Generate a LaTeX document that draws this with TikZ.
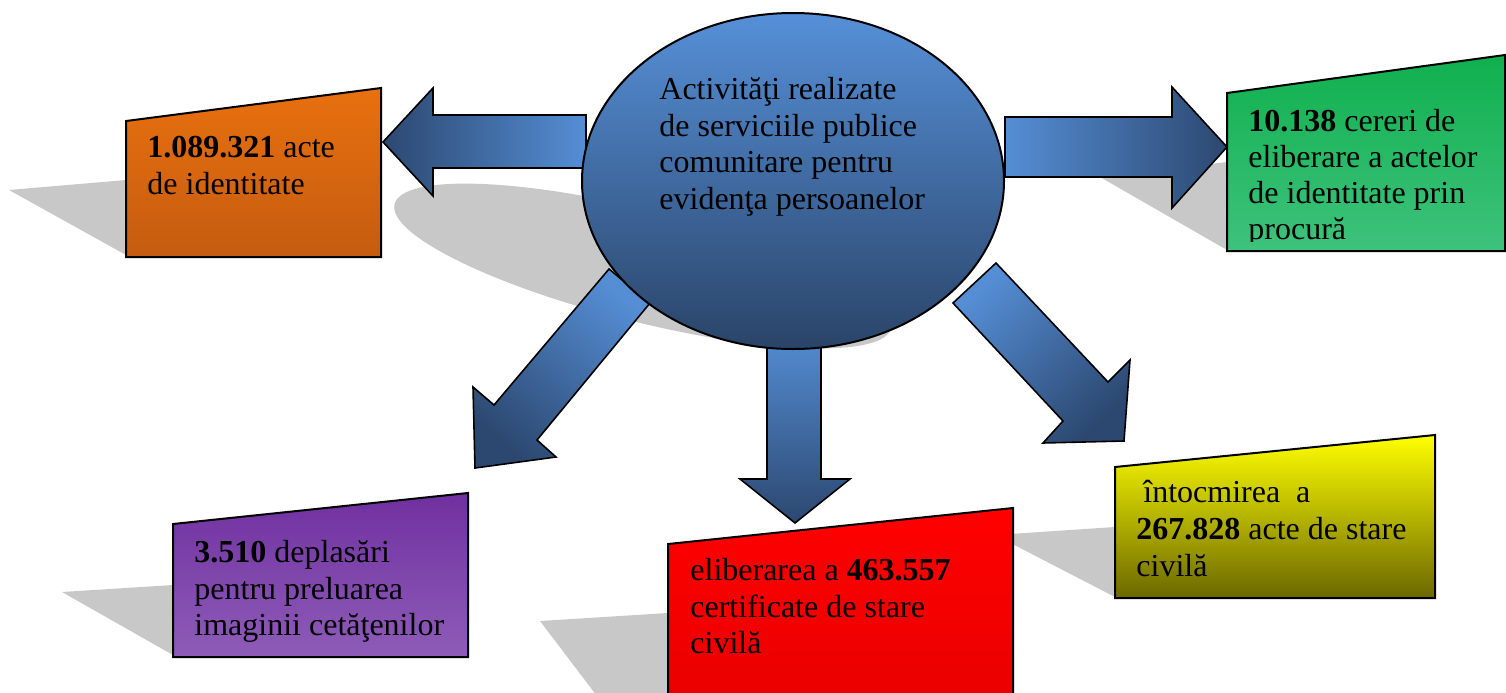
\documentclass[tikz,border=0pt]{standalone}
\usepackage{fontspec}
\setmainfont{Liberation Serif}
\definecolor{arrlight}{HTML}{558ED5}
\definecolor{arrdark}{HTML}{2C4870}
\definecolor{elltop}{HTML}{5690D8}
\definecolor{ellbot}{HTML}{2A4468}
\definecolor{shadowgray}{HTML}{C8C8C8}
\definecolor{orangetop}{HTML}{E8700F}
\definecolor{orangebot}{HTML}{C55C10}
\definecolor{greentop}{HTML}{10B04E}
\definecolor{greenbot}{HTML}{3EC27C}
\definecolor{purpletop}{HTML}{7030A0}
\definecolor{purplebot}{HTML}{8E5CB8}
\definecolor{redtop}{HTML}{FF0000}
\definecolor{redbot}{HTML}{EA0000}
\definecolor{yellowtop}{HTML}{FFFF00}
\definecolor{yellowbot}{HTML}{6B6800}
\tikzset{
  boxline/.style={draw=black, line width=1pt, line join=miter},
  shadowfill/.style={fill=shadowgray},
  blockarrow/.style={draw=black, line width=0.8pt, line join=miter},
  boxtext/.style={anchor=north west, inner sep=0pt, align=left,
    font=\fontsize{16}{18.25}\selectfont},
}
\begin{document}
\begin{tikzpicture}[x=0.5pt,y=-0.5pt]
\clip (0,0) rectangle (1506,692);
% ---- shadows of boxes
\fill[shadowfill] (9,190) -- (126,180) -- (126,255) -- cycle;
\fill[shadowfill] (1100,177) -- (1227,162) -- (1227,250) -- cycle;
\fill[shadowfill] (62,592) -- (173,585) -- (173,655) -- cycle;
\fill[shadowfill] (540,621) -- (668,613) -- (668,700) -- (600,700) -- cycle;
\fill[shadowfill] (995,535) -- (1115,527) -- (1115,597) -- cycle;
% ---- shadow of the central ellipse
\fill[shadowfill, rotate around={-14:(643,266)}] (643,266) ellipse [x radius=256, y radius=56];
% ---- block arrows
\draw[blockarrow, left color=arrdark, right color=arrlight]
  (586,115) -- (433,115) -- (433,88) -- (383,142) -- (433,196) -- (433,168) -- (586,168) -- cycle;
\draw[blockarrow, left color=arrlight, right color=arrdark]
  (1005,117) -- (1172,117) -- (1172,87) -- (1227,147) -- (1172,208) -- (1172,177) -- (1005,177) -- cycle;
\draw[blockarrow, top color=arrlight, bottom color=arrdark]
  (767,330) -- (767,479) -- (740,479) -- (795,523) -- (850,479) -- (821,479) -- (821,330) -- cycle;
\draw[blockarrow, top color=arrlight, bottom color=arrdark, shading angle=-40]
  (609,269) -- (494,405) -- (473,387) -- (475,468) -- (556,457) -- (537,440) -- (650,303) -- cycle;
\draw[blockarrow, top color=arrlight, bottom color=arrdark, shading angle=43]
  (996,263) -- (1108,382) -- (1130,360) -- (1124,441) -- (1043,443) -- (1063,421) -- (953,303) -- cycle;
% ---- central ellipse
\draw[line width=1pt, top color=elltop, bottom color=ellbot] (793,181) ellipse [x radius=211, y radius=168];
\node[boxtext] (tCenter) at (659,77) {Activităţi realizate\\de serviciile publice\\comunitare pentru\\evidenţa persoanelor};
% ---- orange box
\draw[boxline, top color=orangetop, bottom color=orangebot]
  (126,121) -- (381,88) -- (381,257) -- (126,257) -- cycle;
\node[boxtext] (tOrange) at (147,136) {\textbf{1.089.321} acte\\de identitate};
% ---- green box
\draw[boxline, top color=greentop, bottom color=greenbot]
  (1227,93) -- (1505,55) -- (1505,251) -- (1227,251) -- cycle;
\begin{scope}
\clip (1227,50) rectangle (1505,241);
\node[boxtext, font=\fontsize{16}{17.9}\selectfont] (tGreen) at (1248,109) {\textbf{10.138} cereri de\\eliberare a actelor\\de identitate prin\\procură};
\end{scope}
% ---- purple box
\draw[boxline, top color=purpletop, bottom color=purplebot]
  (173,524) -- (468,493) -- (468,657) -- (173,657) -- cycle;
\node[boxtext] (tPurple) at (194,540) {\textbf{3.510} deplasări\\pentru preluarea\\imaginii cetăţenilor};
% ---- red box
\draw[boxline, top color=redtop, bottom color=redbot]
  (668,700) -- (668,544) -- (1013,508) -- (1013,700);
\node[boxtext] (tRed) at (690,558) {eliberarea a \textbf{463.557}\\certificate de stare\\civilă};
% ---- yellow box
\draw[boxline, top color=yellowtop, bottom color=yellowbot]
  (1115,467) -- (1435,435) -- (1435,598) -- (1115,598) -- cycle;
\node[boxtext, font=\fontsize{16}{18.5}\selectfont] (tYellow) at (1136,480) {\hspace*{3.5pt}întocmirea\ \ a\\\textbf{267.828} acte de stare\\civilă};
\end{tikzpicture}
\end{document}
